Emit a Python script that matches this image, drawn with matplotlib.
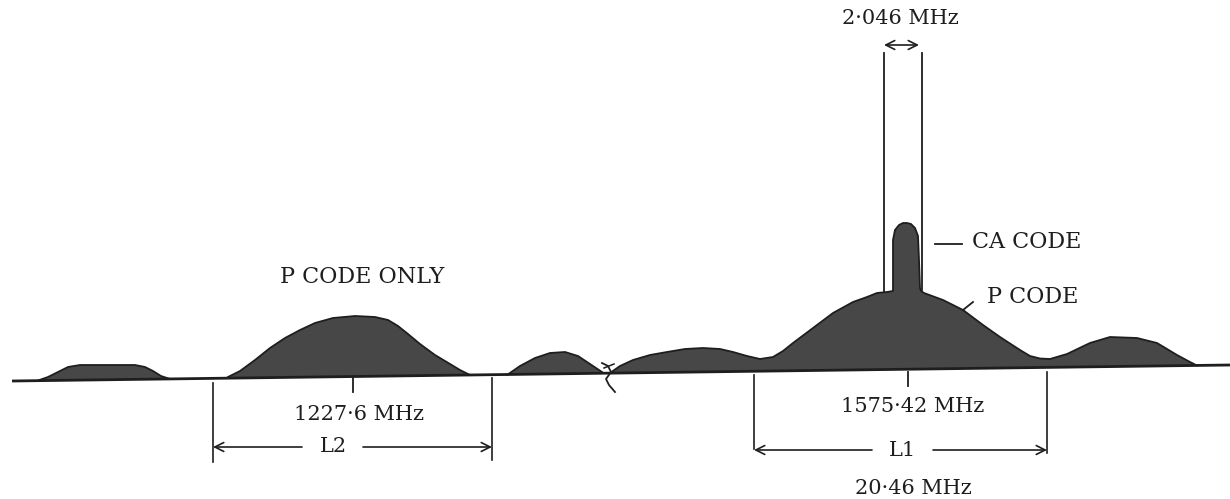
import numpy as np
import matplotlib
matplotlib.use("Agg")
import matplotlib.pyplot as plt

# ---- data: spectrum outline (x position, outline y) ----
lobe1_x = [38, 48, 58, 68, 80, 110, 135, 145, 153, 161, 170]
lobe1_y = [380.5, 377, 372, 367, 365, 365, 365, 367, 371, 376, 379]

lobe2_x = [228, 240, 255, 270, 285, 300, 315, 333, 355, 375, 388, 398, 408, 420, 435, 450, 460, 470]
lobe2_y = [377, 371, 360, 348, 338, 330, 323, 318, 316, 317, 320, 326, 334, 344, 355, 364, 370, 375]

lobe3_x = [507, 520, 535, 550, 565, 578, 590, 602]
lobe3_y = [375, 366, 358, 353, 352, 356, 364, 372]

lobe4_x = [610, 620, 633, 650, 667, 685, 703, 720, 733, 747, 760, 773, 783, 793, 813, 833, 853, 867,
           877, 887, 893, 893, 895, 899, 903, 907, 911, 915, 918, 919, 920, 921, 924, 943, 963,
           983, 1000, 1020, 1030, 1040, 1050, 1067, 1090, 1110, 1137, 1157, 1177, 1190, 1197]
lobe4_y = [373, 366, 360, 355, 352, 349, 348, 349, 352, 356, 359, 357, 351, 343, 328, 313, 302, 297,
           293, 292, 291, 240, 230, 225, 223, 223, 224, 228, 236, 260, 288, 291, 293, 300, 310,
           325, 337, 350, 356, 358.5, 359, 354, 343, 337, 338, 343, 355, 362, 365.5]

tick_x = [353, 908]                 # carrier centre ticks
bracket_x = [213, 492, 754, 1047]   # band edges
ca_lines_x = [884, 922]             # C/A band edges

labels_centre = ["1227·6 MHz", "1575·42 MHz"]
band_names = ["L2", "L1"]
top_label = "2·046 MHz"
bottom_label = "20·46 MHz"
note_labels = ["P CODE ONLY", "CA CODE", "P CODE"]

# ---- figure ----
fig = plt.figure(figsize=(12.3, 4.99), dpi=100)
ax = fig.add_axes([0, 0, 1, 1])
ax.set_xlim(0, 1230)
ax.set_ylim(499, 0)
ax.axis("off")

ink = "#1e1e1e"
fillc = "#474747"
font = dict(family="DejaVu Serif", fontsize=15, color=ink)
font_caps = dict(family="DejaVu Serif", fontsize=16, color=ink)

def base(x):
    x = np.asarray(x, dtype=float)
    return 381 - (x - 12) * (16.0 / 1218.0)

# baseline
bx = np.array([12, 1230])
ax.plot(bx, base(bx), color=ink, lw=2.0, solid_capstyle="butt", zorder=3)

for xs, ys in [(lobe1_x, lobe1_y), (lobe2_x, lobe2_y), (lobe3_x, lobe3_y), (lobe4_x, lobe4_y)]:
    xs = np.asarray(xs, float)
    ys = np.asarray(ys, float)
    ax.fill_between(xs, ys, base(xs), facecolor=fillc, edgecolor="none", zorder=2)
    ax.plot(xs, ys, color=ink, lw=1.3, zorder=3)

# break mark
ax.plot([602, 608, 611, 606, 609, 615], [363, 366, 372, 379, 385, 392], color=ink, lw=1.3, zorder=4)
ax.plot([604, 614], [368, 364], color=ink, lw=1.1, zorder=4)

# centre ticks
ax.plot([tick_x[0]] * 2, [377, 392], color=ink, lw=1.3)
ax.plot([tick_x[1]] * 2, [372, 386], color=ink, lw=1.3)

# L2 bracket
ax.plot([bracket_x[0]] * 2, [383, 462], color=ink, lw=1.2)
ax.plot([bracket_x[1]] * 2, [378, 460], color=ink, lw=1.2)
# L1 bracket
ax.plot([bracket_x[2]] * 2, [375, 449], color=ink, lw=1.2)
ax.plot([bracket_x[3]] * 2, [372, 453], color=ink, lw=1.2)

def arrow(x0, x1, y, style="->"):
    ax.annotate("", xy=(x1, y), xytext=(x0, y),
                arrowprops=dict(arrowstyle=style, lw=1.2, color=ink,
                                shrinkA=0, shrinkB=0, mutation_scale=16))

arrow(302, bracket_x[0], 447)
arrow(363, bracket_x[1], 447)
arrow(872, bracket_x[2], 450)
arrow(933, bracket_x[3], 450)

# C/A band lines and top arrow
ax.plot([ca_lines_x[0]] * 2, [53, 292], color=ink, lw=1.3)
ax.plot([ca_lines_x[1]] * 2, [53, 290], color=ink, lw=1.3)
arrow(ca_lines_x[0], ca_lines_x[1] - 3, 45, style="<->")

# leaders
ax.plot([935, 962], [244, 244], color=ink, lw=1.3)
ax.plot([963, 973], [310, 302], color=ink, lw=1.3)

# texts
ax.text(359, 415, labels_centre[0], ha="center", va="center", **font)
ax.text(913, 407, labels_centre[1], ha="center", va="center", **font)
ax.text(333, 447, band_names[0], ha="center", va="center", **font)
ax.text(903, 450, band_names[1], ha="center", va="center", **font)
ax.text(900, 18, top_label, ha="center", va="center", **font)
ax.text(913, 488, bottom_label, ha="center", va="center", **font)
ax.text(362, 277, note_labels[0], ha="center", va="center", **font_caps)
ax.text(972, 242, note_labels[1], ha="left", va="center", **font_caps)
ax.text(987, 297, note_labels[2], ha="left", va="center", **font_caps)

fig.savefig("out.png", dpi=100, facecolor="white")
